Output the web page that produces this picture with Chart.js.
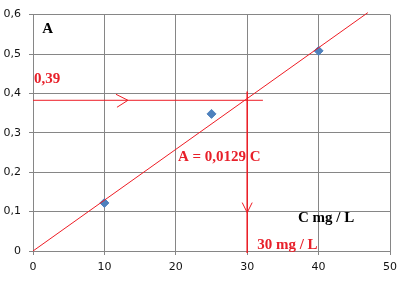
<!DOCTYPE html>
<html>
<head>
<meta charset="utf-8">
<script src="https://cdn.jsdelivr.net/npm/chart.js@4"></script>
<style>
  html, body { margin: 0; padding: 0; background: #fff; }
  canvas { display: block; }
</style>
</head>
<body>
<canvas id="chart" width="417" height="281"></canvas>
<script>
// measured points (concentration mg/L, absorbance)
const concentrations = [10, 25, 40];
const absorbances = [0.122, 0.348, 0.508];

// fitted line A = 0,0129 C, drawn end to end
const fitX = [0, 46.9];
const fitY = [0, 0.605];

// reading guides: absorbance 0,39 -> 30 mg/L
const readAbs = 0.3825;
const readConc = 30;
const guideHorizX = [0, 32.2];
const guideVertY = [0.405, -0.005];
const arrowRightAt = 13.3;   // x value of ">" tip
const arrowDownAt = 0.0975;  // y value of "v" tip

const xTicks = ['0', '10', '20', '30', '40', '50'];
const yTicks = ['0', '0,1', '0,2', '0,3', '0,4', '0,5', '0,6'];

const notes = [
  { text: 'A', x: 1.3, y: 0.5625, color: '#000' },
  { text: '0,39', x: 0.15, y: 0.4375, color: '#e8202a' },
  { text: 'A = 0,0129 C', x: 20.3, y: 0.2375, color: '#e8202a' },
  { text: 'C mg / L', x: 37.1, y: 0.0825, color: '#000' },
  { text: '30 mg / L', x: 31.4, y: 0.015, color: '#e8202a' }
];

const RED = '#ee1c24';
const GRID = '#868686';

const toPoints = (xs, ys) => xs.map((x, i) => ({ x: x, y: ys[i] }));

// chevrons and text labels
const extras = {
  id: 'extras',
  afterDatasetsDraw(chart) {
    const ctx = chart.ctx;
    const xs = chart.scales.x, ys = chart.scales.y;
    ctx.save();
    ctx.strokeStyle = RED;
    ctx.lineWidth = 1;
    // ">" on the horizontal guide
    let tx = xs.getPixelForValue(arrowRightAt), ty = ys.getPixelForValue(readAbs);
    ctx.beginPath();
    ctx.moveTo(tx - 12, ty - 6);
    ctx.lineTo(tx, ty);
    ctx.lineTo(tx - 11, ty + 7);
    ctx.stroke();
    // "v" on the vertical guide
    tx = xs.getPixelForValue(readConc); ty = ys.getPixelForValue(arrowDownAt);
    ctx.beginPath();
    ctx.moveTo(tx - 5, ty - 10);
    ctx.lineTo(tx, ty);
    ctx.lineTo(tx + 5, ty - 10);
    ctx.stroke();

    ctx.font = 'bold 15px "Liberation Serif", "Times New Roman", serif';
    ctx.textAlign = 'left';
    ctx.textBaseline = 'middle';
    notes.forEach(n => {
      ctx.fillStyle = n.color;
      ctx.fillText(n.text, xs.getPixelForValue(n.x), ys.getPixelForValue(n.y));
    });
    ctx.restore();
  }
};

new Chart(document.getElementById('chart'), {
  type: 'scatter',
  data: {
    datasets: [
      {
        label: 'fit',
        data: toPoints(fitX, fitY),
        showLine: true,
        borderColor: RED,
        borderWidth: 1,
        pointRadius: 0,
        clip: false
      },
      {
        label: 'guide h',
        data: toPoints(guideHorizX, [readAbs, readAbs]),
        showLine: true,
        borderColor: RED,
        borderWidth: 1,
        pointRadius: 0,
        clip: false
      },
      {
        label: 'guide v',
        data: toPoints([readConc, readConc], guideVertY),
        showLine: true,
        borderColor: RED,
        borderWidth: 1.5,
        pointRadius: 0,
        clip: false
      },
      {
        label: 'A',
        data: toPoints(concentrations, absorbances),
        pointStyle: 'rectRot',
        pointRadius: 4.5,
        backgroundColor: '#4f81bd',
        borderColor: '#4f81bd',
        borderWidth: 1
      }
    ]
  },
  options: {
    responsive: false,
    animation: false,
    layout: { padding: { left: 0, right: 27, top: 11, bottom: 0 } },
    plugins: {
      legend: { display: false },
      tooltip: { enabled: false }
    },
    scales: {
      x: {
        type: 'linear',
        min: 0,
        max: 50,
        ticks: {
          stepSize: 10,
          padding: 6,
          color: '#111',
          font: { family: 'DejaVu Sans', size: 11 },
          callback: (v, i) => xTicks[i]
        },
        grid: { color: GRID, tickLength: 4, lineWidth: 1 },
        border: { color: GRID },
        afterFit: s => { s.height = 30; }
      },
      y: {
        type: 'linear',
        min: 0,
        max: 0.6,
        ticks: {
          stepSize: 0.1,
          padding: 8,
          color: '#111',
          font: { family: 'DejaVu Sans', size: 11 },
          callback: (v, i) => yTicks[i]
        },
        grid: { color: GRID, tickLength: 4, lineWidth: 1 },
        border: { color: GRID },
        afterFit: s => { s.width = 33; }
      }
    }
  },
  plugins: [extras]
});
</script>
</body>
</html>
